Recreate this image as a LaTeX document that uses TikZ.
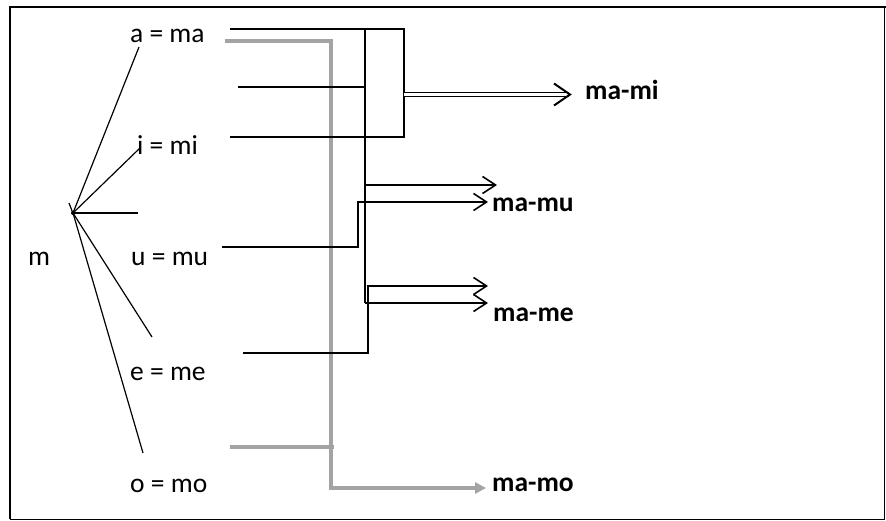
\documentclass[tikz,border=0pt]{standalone}
\usepackage{fontspec}
\setmainfont{Carlito}
\usetikzlibrary{arrows.meta}
\begin{document}
\begin{tikzpicture}[x=1pt,y=-1pt,
  lbl/.style={font=\fontsize{27.5}{32}\selectfont, anchor=base west, inner sep=0pt},
  res/.style={font=\bfseries\fontsize{27.5}{32}\selectfont, anchor=base west, inner sep=0pt},
  ln/.style={line width=1.6pt, black},
  thin/.style={line width=1.2pt, black},
  gr/.style={line width=4pt, color=black!36},
  chev/.style={-{Straight Barb[length=13pt,width=17pt,line width=1.6pt]}},
  dbl/.style={double, double distance=2.6pt, line width=1.4pt},
  grarrow/.style={-{Triangle[length=11pt,width=11pt]}}
]
\useasboundingbox (0,0) rectangle (886,521);
% frame
\draw[line width=1.4pt] (10,519) -- (10,7) -- (886,7);
\draw[line width=1pt] (10,519) -- (884,519) -- (884,7);

% labels
\node[lbl] (m)  at (28,266) {m};
\node[lbl] (la) at (130,43) {a = ma};
\node[lbl] (li) at (137,155) {i = mi};
\node[lbl] (lu) at (131,266) {u = mu};
\node[lbl] (le) at (130,380) {e = me};
\node[lbl] (lo) at (130,492) {o = mo};

\node[res] (rmi) at (585,100) {ma-mi};
\node[res] (rmu) at (492,212) {ma-mu};
\node[res] (rme) at (493,322) {ma-me};
\node[res] (rmo) at (492,491) {ma-mo};

% hub and spokes
\coordinate (hub) at (73,213);
\coordinate (sa) at (139,47);
\coordinate (si) at (140,148);
\coordinate (sh) at (138,213);
\coordinate (se) at (152,337);
\coordinate (so) at (143,453);
\coordinate (tk) at (69,203);
\draw[thin] (hub) -- (sa);
\draw[thin] (hub) -- (si);
\draw[thin] (hub) -- (sh);
\draw[thin] (hub) -- (se);
\draw[thin] (hub) -- (so);
\draw[line width=1.2pt] (tk) -- ([shift={(1,3)}]hub);
\fill (hub) circle (2pt);

% gray path a -> ma-mo
\coordinate (ga) at (225,41);
\coordinate (gc) at (331,41);
\coordinate (gd) at (331,488);
\coordinate (gt) at (486,488);
\draw[gr, grarrow] (ga) -- (gc) -- (gd) -- (gt);
\coordinate (go) at (230,447);
\coordinate (gj) at (334,447);
\draw[gr] (go) -- (gj);

% rectangle for ma-mi
\coordinate (r1) at (230,29);
\coordinate (r2) at (404,29);
\coordinate (r3) at (404,137);
\coordinate (r4) at (230,137);
\draw[ln] (r1) -- (r2) -- (r3) -- (r4);
\coordinate (l2a) at (238,87);
\coordinate (l2b) at (365,87);
\draw[ln] (l2a) -- (l2b);
\coordinate (mi0) at (404,94.5);
\coordinate (mi1) at (569,94.5);
\draw[dbl] (mi0) -- (mi1);
\draw[line width=2pt, line join=miter] ([shift={(-15,-11)}]mi1) -- ([shift={(1,0)}]mi1) -- ([shift={(-15,11)}]mi1);

% main vertical
\coordinate (v0) at (365,29);
\coordinate (v1) at (365,303);
\coordinate (mu1s) at (365,185);
\coordinate (mu1t) at (497,185);
\coordinate (me2t) at (488,303);
\draw[ln] (v0) -- (v1);
\draw[ln, chev] (mu1s) -- (mu1t);
\draw[ln, chev] (v1) -- (me2t);

% u line
\coordinate (u0) at (222,247);
\coordinate (u1) at (358,247);
\coordinate (u2) at (358,202);
\coordinate (mu2t) at (488,202);
\draw[ln, chev] (u0) -- (u1) -- (u2) -- (mu2t);

% e line
\coordinate (e0) at (243,353);
\coordinate (e1) at (368,353);
\coordinate (e2) at (368,286);
\coordinate (me1t) at (488,286);
\draw[ln, chev] (e0) -- (e1) -- (e2) -- (me1t);
\end{tikzpicture}
\end{document}
